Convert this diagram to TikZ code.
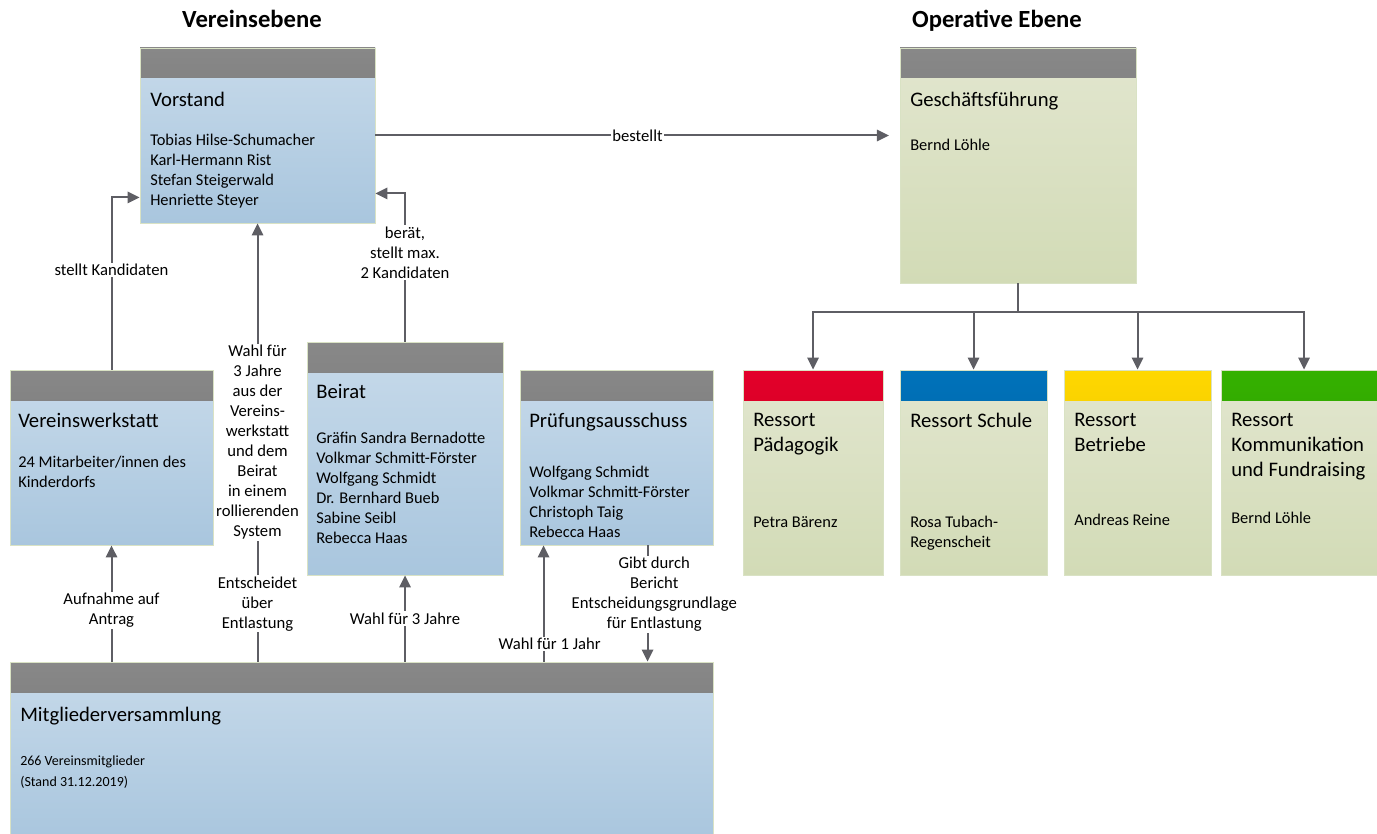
\documentclass[tikz,border=0pt]{standalone}
\usepackage{fontspec}
\setmainfont{Carlito}
\usetikzlibrary{positioning,arrows.meta,fit}

\definecolor{hdrtop}{HTML}{888888}
\definecolor{hdrbot}{HTML}{6C6C6C}
\definecolor{bluetop}{HTML}{C7DAEA}
\definecolor{bluebot}{HTML}{A9C6DE}
\definecolor{greentop}{HTML}{E2E6CF}
\definecolor{greenbot}{HTML}{D2DBB6}
\definecolor{boxline}{HTML}{D9E2C4}
\definecolor{redtop}{HTML}{E3002A}
\definecolor{redbot}{HTML}{BE001E}
\definecolor{bluehtop}{HTML}{0072BA}
\definecolor{bluehbot}{HTML}{005C98}
\definecolor{yeltop}{HTML}{FFD800}
\definecolor{yelbot}{HTML}{DDB400}
\definecolor{grntop}{HTML}{35B100}
\definecolor{grnbot}{HTML}{289000}
\definecolor{arrgray}{HTML}{5E5E64}

\begin{document}
\begin{tikzpicture}[x=0.75pt,y=-0.75pt,
  hdr/.style 2 args={path picture={\shade[top color=#1,bottom color=#2]
    (path picture bounding box.north west) rectangle ([shift={(0,30)}]path picture bounding box.north east);}},
  vbox/.style={draw=boxline,line width=0.6pt,inner sep=0pt,top color=bluetop,bottom color=bluebot,hdr={hdrtop}{hdrbot}},
  gbox/.style={vbox,top color=greentop,bottom color=greenbot},
  head/.style={anchor=base,text depth=0pt,font=\bfseries\fontsize{18.5}{22}\selectfont},
  ttl/.style={anchor=north west,inner sep=0pt,align=left,font=\fontsize{15.5}{18.75}\selectfont},
  names/.style={anchor=north west,inner sep=0pt,align=left,font=\fontsize{12.3}{15}\selectfont},
  lbl/.style={fill=white,inner sep=1pt,align=center,font=\fontsize{12.5}{15}\selectfont},
  arr/.style={-{Triangle[length=9pt,width=8.5pt]},line width=1.5pt,draw=arrgray},
  conn/.style={line width=1.5pt,draw=arrgray}]
  \useasboundingbox (0,0) rectangle (1377,834);

  % Ueberschriften
  \node[head] (vhead) at (252,28) {Vereinsebene};
  \node[head] (ohead) at (997,28) {Operative Ebene};

  % Vereinsebene
  \node[vbox,fit={(140,48) (375,223)}] (vorstand) {};
  \node[ttl] (vorstandT) at (150,92) {Vorstand};
  \node[names] (vorstandN) at (150,134) {Tobias Hilse-Schumacher\\Karl-Hermann Rist\\Stefan Steigerwald\\Henriette Steyer};

  \node[vbox,fit={(10,370) (213,545)}] (werkstatt) {};
  \node[ttl] (werkstattT) at (18,413) {Vereinswerkstatt};
  \node[names] (werkstattN) at (18,456) {24 Mitarbeiter/innen des\\Kinderdorfs};

  \node[vbox,fit={(307,342) (503,575)}] (beirat) {};
  \node[ttl] (beiratT) at (316,384) {Beirat};
  \node[names] (beiratN) at (316,432) {Gräfin Sandra Bernadotte\\Volkmar Schmitt-Förster\\Wolfgang Schmidt\\Dr. Bernhard Bueb\\Sabine Seibl\\Rebecca Haas};

  \node[vbox,fit={(520,370) (713,545)}] (pruefung) {};
  \node[ttl] (pruefungT) at (529,413) {Prüfungsausschuss};
  \node[names] (pruefungN) at (529,466) {Wolfgang Schmidt\\Volkmar Schmitt-Förster\\Christoph Taig\\Rebecca Haas};

  \node[vbox,fit={(10,662) (713,840)}] (mv) {};
  \node[ttl] (mvT) at (20,707) {Mitgliederversammlung};
  \node[names,font=\fontsize{10.5}{15.75}\selectfont] (mvN) at (20,755.5) {266 Vereinsmitglieder\\(Stand 31.12.2019)};

  % Operative Ebene
  \node[gbox,fit={(900,48) (1136,283)}] (gf) {};
  \node[ttl] (gfT) at (910,92) {Geschäftsführung};
  \node[names] (gfN) at (910,139) {Bernd Löhle};

  \node[gbox,hdr={redtop}{redbot},fit={(743,370) (883,575)}] (paed) {};
  \node[ttl] (paedT) at (753,413) {Ressort\\Pädagogik};
  \node[names] (paedN) at (753,516) {Petra Bärenz};

  \node[gbox,hdr={bluehtop}{bluehbot},fit={(900,370) (1047,575)}] (schule) {};
  \node[ttl] (schuleT) at (910,413) {Ressort Schule};
  \node[names] (schuleN) at (910,516) {Rosa Tubach-\\Regenscheit};

  \node[gbox,hdr={yeltop}{yelbot},fit={(1064,370) (1211,575)}] (betriebe) {};
  \node[ttl] (betriebeT) at (1074,413) {Ressort\\Betriebe};
  \node[names] (betriebeN) at (1074,514) {Andreas Reine};

  \node[gbox,hdr={grntop}{grnbot},fit={(1221,370) (1387,575)}] (komm) {};
  \node[ttl] (kommT) at (1231,413) {Ressort\\Kommunikation\\und Fundraising};
  \node[names] (kommN) at (1231,512) {Bernd Löhle};

  % Verbindungen
  \draw[arr,shorten >=8pt] (vorstand.east) -- (vorstand.east -| gf.west) node[lbl,midway] {bestellt};
  \draw[arr] (werkstatt.north) |- ([shift={(0,-26)}]vorstand.south west) node[lbl,pos=0.29] {stellt Kandidaten};
  \draw[arr] (beirat.north) |- ([shift={(0,-30)}]vorstand.south east) node[lbl,pos=0.3] {berät,\\stellt max.\\2 Kandidaten};
  \draw[arr] (mv.north -| vorstand.south) -- (vorstand.south)
    node[lbl,midway] {Wahl für\\3 Jahre\\aus der\\Vereins-\\werkstatt\\und dem\\Beirat\\in einem\\rollierenden\\System}
    node[lbl,pos=0.132] {Entscheidet\\über\\Entlastung};
  \draw[arr] (mv.north -| werkstatt.south) -- (werkstatt.south) node[lbl,pos=0.44] {Aufnahme auf\\Antrag};
  \draw[arr] (mv.north -| beirat.south) -- (beirat.south) node[lbl,midway] {Wahl für 3 Jahre};
  \coordinate (pin) at ([shift={(24,0)}]pruefung.south west);
  \coordinate (pout) at ([shift={(128,0)}]pruefung.south west);
  \draw[arr] (mv.north -| pin) -- (pin) node[lbl,pos=0.15,xshift=4.5pt] {Wahl für 1 Jahr};
  \draw[arr] (pout) -- (pout |- mv.north) node[lbl,pos=0.42,xshift=5pt] {Gibt durch\\Bericht\\Entscheidungsgrundlage\\für Entlastung};

  \coordinate (split) at ([shift={(0,29)}]gf.south);
  \draw[conn] (gf.south) -- (split);
  \foreach \r in {paed,schule,betriebe,komm}
    \draw[arr] (split) -| (\r.north);
\end{tikzpicture}
\end{document}
